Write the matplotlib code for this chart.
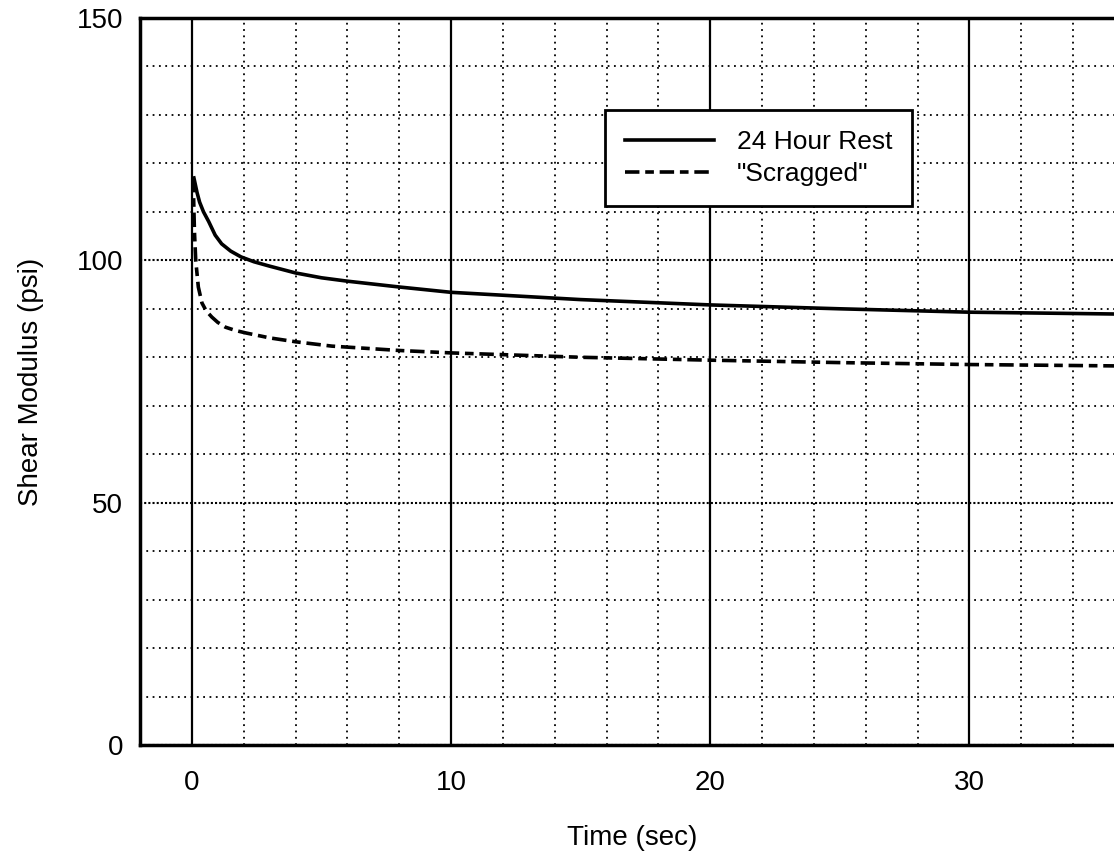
import numpy as np
import matplotlib
matplotlib.use("Agg")
import matplotlib.pyplot as plt
from matplotlib.ticker import MultipleLocator

plt.rcParams['font.family'] = ['Liberation Sans Narrow', 'Liberation Sans', 'DejaVu Sans']

# ============================================================
# DATA
# ============================================================

t_rest = [0.08, 0.2, 0.3, 0.45, 0.65, 0.9, 1.15, 1.5, 1.9, 2.4, 3.0, 4.0, 5.0, 6.0,
          8.0, 10.0, 12.0, 15.0, 20.0, 25.0, 30.0, 36.0]
g_rest = [117, 114, 112, 110, 108, 105.2, 103.4, 101.9, 100.7, 99.7, 98.8, 97.4, 96.4, 95.7,
          94.5, 93.4, 92.8, 91.9, 90.8, 90.0, 89.3, 88.9]

t_scrag = [0.05, 0.1, 0.15, 0.25, 0.39, 0.55, 0.77, 1.0, 1.3, 1.7, 2.1, 3.0, 4.0, 5.4,
           8.0, 10.0, 15.0, 20.0, 25.0, 30.0, 36.0]
g_scrag = [117, 106, 100, 94.5, 91.2, 89.6, 88.3, 87.2, 86.2, 85.5, 85.0, 84.0, 83.2, 82.3,
           81.4, 80.9, 80.0, 79.4, 78.9, 78.5, 78.2]

x_ticks = [0, 10, 20, 30]
y_ticks = [0, 50, 100, 150]

# ============================================================
# FIGURE
# ============================================================

fig = plt.figure(figsize=(11.14, 8.58), dpi=100)
ax = fig.add_axes([140 / 1114, 113 / 858, 985 / 1114, 727 / 858])

ax.plot(t_rest, g_rest, color="black", lw=2.6, label="24 Hour Rest")
ax.plot(t_scrag, g_scrag, color="black", lw=2.6,
        dashes=(4, 1.6, 2.4, 1.6), label="\"Scragged\"")

ax.set_xlim(-2, 36)
ax.set_ylim(0, 150)

ax.set_xticks(x_ticks)
ax.set_yticks(y_ticks)
ax.xaxis.set_minor_locator(MultipleLocator(2))
ax.yaxis.set_minor_locator(MultipleLocator(10))
ax.tick_params(which="both", length=0)
ax.tick_params(axis="x", pad=18, labelsize=20)
ax.tick_params(axis="y", pad=12, labelsize=20)

# grid
ax.xaxis.grid(True, which="major", color="black", lw=1.6, ls="-")
ax.xaxis.grid(True, which="minor", color="black", lw=1.3, ls=(0, (1, 2.5)))
ax.yaxis.grid(True, which="major", color="black", lw=1.5, ls=(0, (1, 1)))
ax.yaxis.grid(True, which="minor", color="black", lw=1.3, ls=(0, (1, 2.5)))
ax.set_axisbelow(True)

for s in ax.spines.values():
    s.set_linewidth(2.5)

ax.set_xlabel("Time (sec)", fontsize=20, labelpad=21)
ax.set_ylabel("Shear Modulus (psi)", fontsize=20, labelpad=24)

leg = ax.legend(loc="upper left", bbox_to_anchor=(0.472, 0.873),
                borderaxespad=0, fontsize=19, handlelength=3.4,
                handletextpad=0.85, labelspacing=0.3, borderpad=0.75,
                fancybox=False, framealpha=1)
leg.get_frame().set_edgecolor("black")
leg.get_frame().set_linewidth(2)

plt.savefig("out.png", dpi=100)
